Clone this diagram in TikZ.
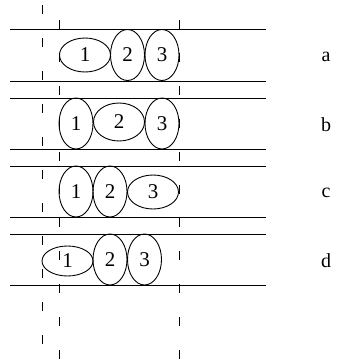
\documentclass[tikz,border=0pt]{standalone}
\usepackage{fontspec}
\setmainfont{Liberation Serif}
\usepackage{tikz}
\usetikzlibrary{shapes.geometric}
\tikzset{
  band/.style  = {draw=black, line width=0.9pt},
  guide/.style = {draw=black, line width=0.9pt, dash pattern=on 9pt off 24pt},
  cellv/.style = {ellipse, draw=black, line width=0.9pt, minimum width=34pt,
                  minimum height=51pt, inner sep=0pt,
                  font=\fontsize{21}{22}\selectfont},
  cellh/.style = {ellipse, draw=black, line width=0.9pt, minimum width=51pt,
                  minimum height=34pt, inner sep=0pt,
                  font=\fontsize{21}{22}\selectfont},
  tag/.style   = {font=\fontsize{20}{22}\selectfont, inner sep=0pt}
}
\begin{document}
\begin{tikzpicture}[x=1pt, y=-1pt]
  \useasboundingbox (0,0) rectangle (337,364);
  % bands
  \foreach \yt/\yb in {29/81, 98/149, 166/217, 234/285} {
    \draw[band] (10,\yt) -- (266,\yt);
    \draw[band] (10,\yb) -- (266,\yb);
  }
  % guide lines
  \draw[guide] (42,5)   -- (42,364);
  \draw[guide] (59,20)  -- (59,364);
  \draw[guide] (179,20) -- (179,364);
  % row a
  \node[cellh] (a1) at (85,55)  {1};
  \node[cellv] (a2) at (127.5,55) {2};
  \node[cellv] (a3) at (162,55) {3};
  \node[tag]   (la) at (326,57) {a};
  % row b
  \node[cellv] (b1) at (76,123.5)  {1};
  \node[cellh, minimum height=38pt] (b2) at (119,122) {2};
  \node[cellv] (b3) at (162,123.5) {3};
  \node[tag]   (lb) at (326,125) {b};
  % row c
  \node[cellv] (c1) at (76,191.5)  {1};
  \node[cellv] (c2) at (110,191.5) {2};
  \node[cellh] (c3) at (153,192)   {3};
  \node[tag]   (lc) at (326,193) {c};
  % row d
  \node[cellh, minimum height=30pt] (d1) at (67.5,261) {1};
  \node[cellv] (d2) at (110,259.5) {2};
  \node[cellv] (d3) at (144.5,259.5) {3};
  \node[tag]   (ld) at (326,261) {d};
\end{tikzpicture}
\end{document}
